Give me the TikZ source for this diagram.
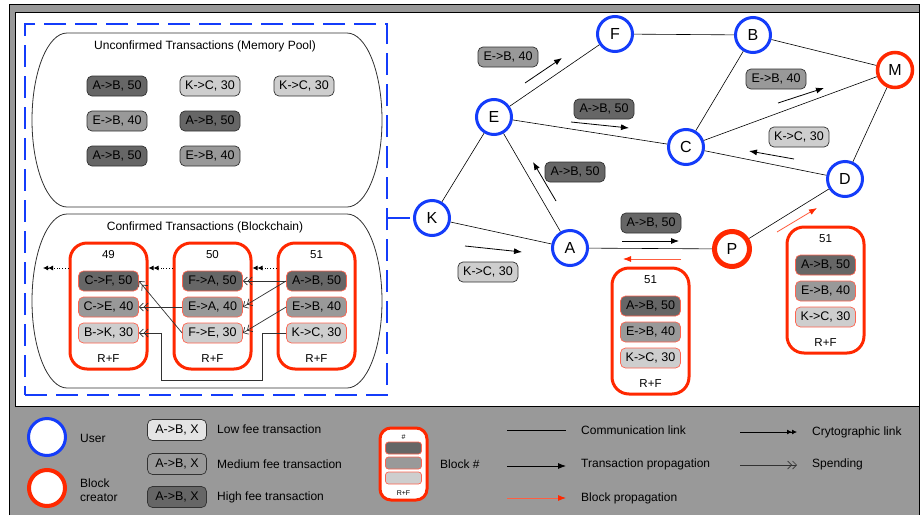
\documentclass[tikz,border=0pt]{standalone}
\usepackage{fontspec}
\setmainfont{Liberation Sans}
\usetikzlibrary{shapes,arrows.meta}
\definecolor{userblue}{RGB}{20, 60, 250}
\definecolor{minerred}{RGB}{255, 40, 0}
\definecolor{framegray}{RGB}{153, 153, 153}
\definecolor{feehigh}{RGB}{102, 102, 102}
\definecolor{feemed}{RGB}{153, 153, 153}
\definecolor{feelow}{RGB}{206, 206, 206}
\definecolor{feekey}{RGB}{228, 228, 228}
\definecolor{txedge}{RGB}{50, 50, 50}
\definecolor{txred}{RGB}{255, 100, 80}
\tikzstyle{user} = [circle, draw=userblue, line width=3pt, fill=white,
    minimum size=35pt, inner sep=0pt, font=\fontsize{16}{18}\selectfont]
\tikzstyle{creator} = [user, draw=minerred, line width=3.5pt]
\tikzstyle{tx} = [rectangle, draw=txedge, line width=0.7pt, rounded corners=5pt,
    minimum width=60pt, minimum height=20pt, inner sep=1pt,
    font=\fontsize{12.5}{14}\selectfont]
\tikzstyle{btx} = [tx, draw=txred]
\tikzstyle{block} = [rectangle, draw=minerred, line width=3pt, rounded corners=17pt,
    minimum width=77pt, minimum height=126pt]
\tikzstyle{blocktext} = [inner sep=0pt, font=\fontsize{11.5}{13}\selectfont]
\tikzstyle{title} = [inner sep=0pt, font=\fontsize{12}{14}\selectfont]
\tikzstyle{keytext} = [anchor=west, inner sep=0pt, font=\fontsize{12}{14}\selectfont]
\tikzstyle{keysmall} = [inner sep=0pt, font=\fontsize{7}{8}\selectfont]
\tikzstyle{panel} = [draw=txedge, line width=0.8pt]
\tikzstyle{ledger} = [rectangle, draw=userblue, line width=2.5pt, dash pattern=on 22pt off 9pt]
\tikzstyle{commlink} = [draw, line width=0.6pt]
\tikzstyle{txflow} = [draw, line width=0.8pt, -{Latex[length=8pt, width=6pt]}]
\tikzstyle{blockflow} = [draw=minerred!75, line width=0.8pt,
    -{Latex[length=8pt, width=6pt, fill=minerred, color=minerred]}]
\tikzstyle{cryptolink} = [draw, line width=0.8pt,
    -{Latex[length=5pt, width=5pt] Latex[length=5pt, width=5pt]}]
\tikzstyle{spend} = [draw=txedge, line width=0.7pt,
    -{Straight Barb[length=4pt, width=8pt] Straight Barb[length=4pt, width=8pt]}]

\begin{document}
\begin{tikzpicture}[x=1pt, y=-1pt, node distance=26pt]
  \useasboundingbox (0,0) rectangle (922,515);
  % frame
  \fill[framegray] (9,4) rectangle (919,515);
  \draw[line width=0.8pt] (9,515) -- (9,4) -- (919,4) -- (919,515);
  \draw[fill=white, line width=0.8pt] (15,12) rectangle (919,406);

  % ledger of node K
  \node[ledger, minimum width=362pt, minimum height=371pt] (ledger) at (206,209.5) {};
  \draw[panel] (67,33) -- (347,33) arc[start angle=90, end angle=-90, x radius=35pt, y radius=87pt]
    -- (67,207) arc[start angle=270, end angle=90, x radius=35pt, y radius=87pt] -- cycle;
  \node[title] (pooltitle) at (205,46) {Unconfirmed Transactions (Memory Pool)};
  \draw[panel] (67,214) -- (347,214) arc[start angle=90, end angle=-90, x radius=35pt, y radius=87pt]
    -- (67,388) arc[start angle=270, end angle=90, x radius=35pt, y radius=87pt] -- cycle;
  \node[title] (chaintitle) at (205,227) {Confirmed Transactions (Blockchain)};

  % memory pool
  \node[tx, fill=feehigh] (pool1) at (117,86) {A->B, 50};
  \node[tx, fill=feemed, below of=pool1, node distance=35pt] (pool2) {E->B, 40};
  \node[tx, fill=feehigh, below of=pool2, node distance=35pt] (pool3) {A->B, 50};
  \node[tx, fill=feelow] (pool4) at (210,86) {K->C, 30};
  \node[tx, fill=feehigh, below of=pool4, node distance=35pt] (pool5) {A->B, 50};
  \node[tx, fill=feemed, below of=pool5, node distance=35pt] (pool6) {E->B, 40};
  \node[tx, fill=feelow] (pool7) at (304,86) {K->C, 30};

  % blockchain
  \node[block] (b49) at (108.5,306) {};
  \node[blocktext] (n49) at ([yshift=51pt]b49.center) {49};
  \node[btx, fill=feehigh, below of=n49] (cf49) {C->F, 50};
  \node[btx, fill=feemed, below of=cf49] (ce49) {C->E, 40};
  \node[btx, fill=feelow, below of=ce49] (bk49) {B->K, 30};
  \node[blocktext, below of=bk49] (rf49) {R+F};

  \node[block] (b50) at (212.5,306) {};
  \node[blocktext] (n50) at ([yshift=51pt]b50.center) {50};
  \node[btx, fill=feehigh, below of=n50] (fa50) {F->A, 50};
  \node[btx, fill=feemed, below of=fa50] (ea50) {E->A, 40};
  \node[btx, fill=feelow, below of=ea50] (fe50) {F->E, 30};
  \node[blocktext, below of=fe50] (rf50) {R+F};

  \node[block] (b51) at (316.5,306) {};
  \node[blocktext] (n51) at ([yshift=51pt]b51.center) {51};
  \node[btx, fill=feehigh, below of=n51] (ab51) {A->B, 50};
  \node[btx, fill=feemed, below of=ab51] (eb51) {E->B, 40};
  \node[btx, fill=feelow, below of=eb51] (kc51) {K->C, 30};
  \node[blocktext, below of=kc51] (rf51) {R+F};

  \coordinate (older) at (43,268);
  \path[cryptolink, dotted] ([yshift=38pt]b51.west) -- ([yshift=38pt]b50.east);
  \path[cryptolink, dotted] ([yshift=38pt]b50.west) -- ([yshift=38pt]b49.east);
  \path[cryptolink, dotted] ([yshift=38pt]b49.west) -- (older);

  \path[spend] (ab51.west) -- (fa50.east);
  \path[spend] (ab51.west) -- (ea50.east);
  \path[spend] (eb51.west) -- (fe50.east);
  \path[spend] (fe50.west) -- (cf49.east);
  \path[spend] (ea50.west) -- (ce49.east);
  \path[spend] (kc51.west) -- ++(-24,0) -- ++(0,47) -| ([xshift=22pt]bk49.east) -- (bk49.east);

  % network
  \node[user] (F) at (615,34) {F};
  \node[user] (B) at (753,35) {B};
  \node[creator] (M) at (895,70) {M};
  \node[user] (E) at (494,117) {E};
  \node[user] (C) at (686,147) {C};
  \node[user] (D) at (845,179) {D};
  \node[user] (K) at (432,218) {K};
  \node[user] (A) at (570,248) {A};
  \node[creator, line width=5pt] (P) at (732,249) {P};

  \path[ledger] (ledger.east |- K) -- (K);
  \path[commlink] (F) -- (B);
  \path[commlink] (E) -- (F);
  \path[commlink] (E) -- (C);
  \path[commlink] (E) -- (K);
  \path[commlink] (E) -- (A);
  \path[commlink] (K) -- (A);
  \path[commlink] (A) -- (P);
  \path[commlink] (P) -- (D);
  \path[commlink] (C) -- (D);
  \path[commlink] (C) -- (M);
  \path[commlink] (C) -- (B);
  \path[commlink] (B) -- (M);
  \path[commlink] (M) -- (D);

  % transactions on the move
  \node[tx, fill=feemed] (txEF) at (508,57) {E->B, 40};
  \node[tx, fill=feehigh] (txEC) at (604,109) {A->B, 50};
  \node[tx, fill=feehigh] (txAE) at (575,172) {A->B, 50};
  \node[tx, fill=feelow] (txKA) at (488,272) {K->C, 30};
  \node[tx, fill=feehigh] (txAP) at (651,223) {A->B, 50};
  \node[tx, fill=feemed] (txCM) at (776,79) {E->B, 40};
  \node[tx, fill=feelow] (txDC) at (799,137) {K->C, 30};

  \coordinate (ef1) at (525,83);  \coordinate (ef2) at (562,58);
  \coordinate (ec1) at (571,122); \coordinate (ec2) at (629,128);
  \coordinate (ae1) at (556,201); \coordinate (ae2) at (533,162);
  \coordinate (ka1) at (465,246); \coordinate (ka2) at (522,252);
  \coordinate (ap1) at (622,241); \coordinate (ap2) at (679,241);
  \coordinate (cm1) at (778,103); \coordinate (cm2) at (824,88);
  \coordinate (dc1) at (794,159); \coordinate (dc2) at (749,151);
  \coordinate (pa1) at (681,259); \coordinate (pa2) at (623,259);
  \coordinate (pd1) at (777,232); \coordinate (pd2) at (817,208);
  \path[txflow] (ef1) -- (ef2);
  \path[txflow] (ec1) -- (ec2);
  \path[txflow] (ae1) -- (ae2);
  \path[txflow] (ka1) -- (ka2);
  \path[txflow] (ap1) -- (ap2);
  \path[txflow] (cm1) -- (cm2);
  \path[txflow] (dc1) -- (dc2);
  \path[blockflow] (pa1) -- (pa2);
  \path[blockflow] (pd1) -- (pd2);

  % blocks on the move
  \node[block] (pb51) at (650.5,331) {};
  \node[blocktext] (pn51) at ([yshift=51pt]pb51.center) {51};
  \node[btx, fill=feehigh, below of=pn51] (pab51) {A->B, 50};
  \node[btx, fill=feemed, below of=pab51] (peb51) {E->B, 40};
  \node[btx, fill=feelow, below of=peb51] (pkc51) {K->C, 30};
  \node[blocktext, below of=pkc51] (prf51) {R+F};

  \node[block] (db51) at (825.5,290) {};
  \node[blocktext] (dn51) at ([yshift=51pt]db51.center) {51};
  \node[btx, fill=feehigh, below of=dn51] (dab51) {A->B, 50};
  \node[btx, fill=feemed, below of=dab51] (deb51) {E->B, 40};
  \node[btx, fill=feelow, below of=deb51] (dkc51) {K->C, 30};
  \node[blocktext, below of=dkc51] (drf51) {R+F};

  % legend
  \node[user, minimum size=37pt] (keyuser) at (47,437) {};
  \node[keytext] (keyusertext) at (80,438) {User};
  \node[creator, minimum size=36pt, line width=4pt] (keycreator) at (47,488) {};
  \node[keytext, align=left] (keycreatortext) at (80,490) {Block\\creator};

  \node[tx, fill=feekey, minimum width=59pt, minimum height=21pt] (keylow) at (177,430) {A->B, X};
  \node[tx, fill=feemed, minimum width=59pt, minimum height=21pt] (keymed) at (177,464) {A->B, X};
  \node[tx, fill=feehigh, minimum width=59pt, minimum height=21pt] (keyhigh) at (177,497) {A->B, X};
  \node[keytext] (keylowtext) at (217,429) {Low fee transaction};
  \node[keytext] (keymedtext) at (217,464) {Medium fee transaction};
  \node[keytext] (keyhightext) at (217,497) {High fee transaction};

  \node[block, fill=white, minimum width=47pt, minimum height=72pt, rounded corners=11pt] (keyblock) at (403.5,464) {};
  \node[keysmall] (keynum) at (403.5,437.5) {\#};
  \node[btx, fill=feehigh, minimum width=36pt, minimum height=12pt, rounded corners=3pt] (keytx1) at (403.5,448) {};
  \node[btx, fill=feemed, minimum width=36pt, minimum height=12pt, rounded corners=3pt] (keytx2) at (403.5,463) {};
  \node[btx, fill=feelow, minimum width=36pt, minimum height=12pt, rounded corners=3pt] (keytx3) at (403.5,478) {};
  \node[keysmall] (keyrf) at (403.5,493) {R+F};
  \node[keytext] (keyblocktext) at (440,464) {Block \#};

  \node[keytext] (keycomm) at (581,430) {Communication link};
  \node[keytext] (keytxflow) at (581,464) {Transaction propagation};
  \node[keytext] (keyblockflow) at (581,498) {Block propagation};
  \node[keytext] (keycrypto) at (812,432) {Crytographic link};
  \node[keytext] (keyspend) at (812,464) {Spending};
  \path[commlink] ([xshift=-74pt]keycomm.west) -- ([xshift=-15pt]keycomm.west);
  \path[txflow] ([xshift=-74pt, yshift=-2pt]keytxflow.west) -- ([xshift=-15pt, yshift=-2pt]keytxflow.west);
  \path[blockflow] ([xshift=-74pt]keyblockflow.west) -- ([xshift=-15pt]keyblockflow.west);
  \path[cryptolink] ([xshift=-72pt]keycrypto.west) -- ([xshift=-15pt]keycrypto.west);
  \path[spend] ([xshift=-72pt, yshift=-1pt]keyspend.west) -- ([xshift=-15pt, yshift=-1pt]keyspend.west);
\end{tikzpicture}
\end{document}
